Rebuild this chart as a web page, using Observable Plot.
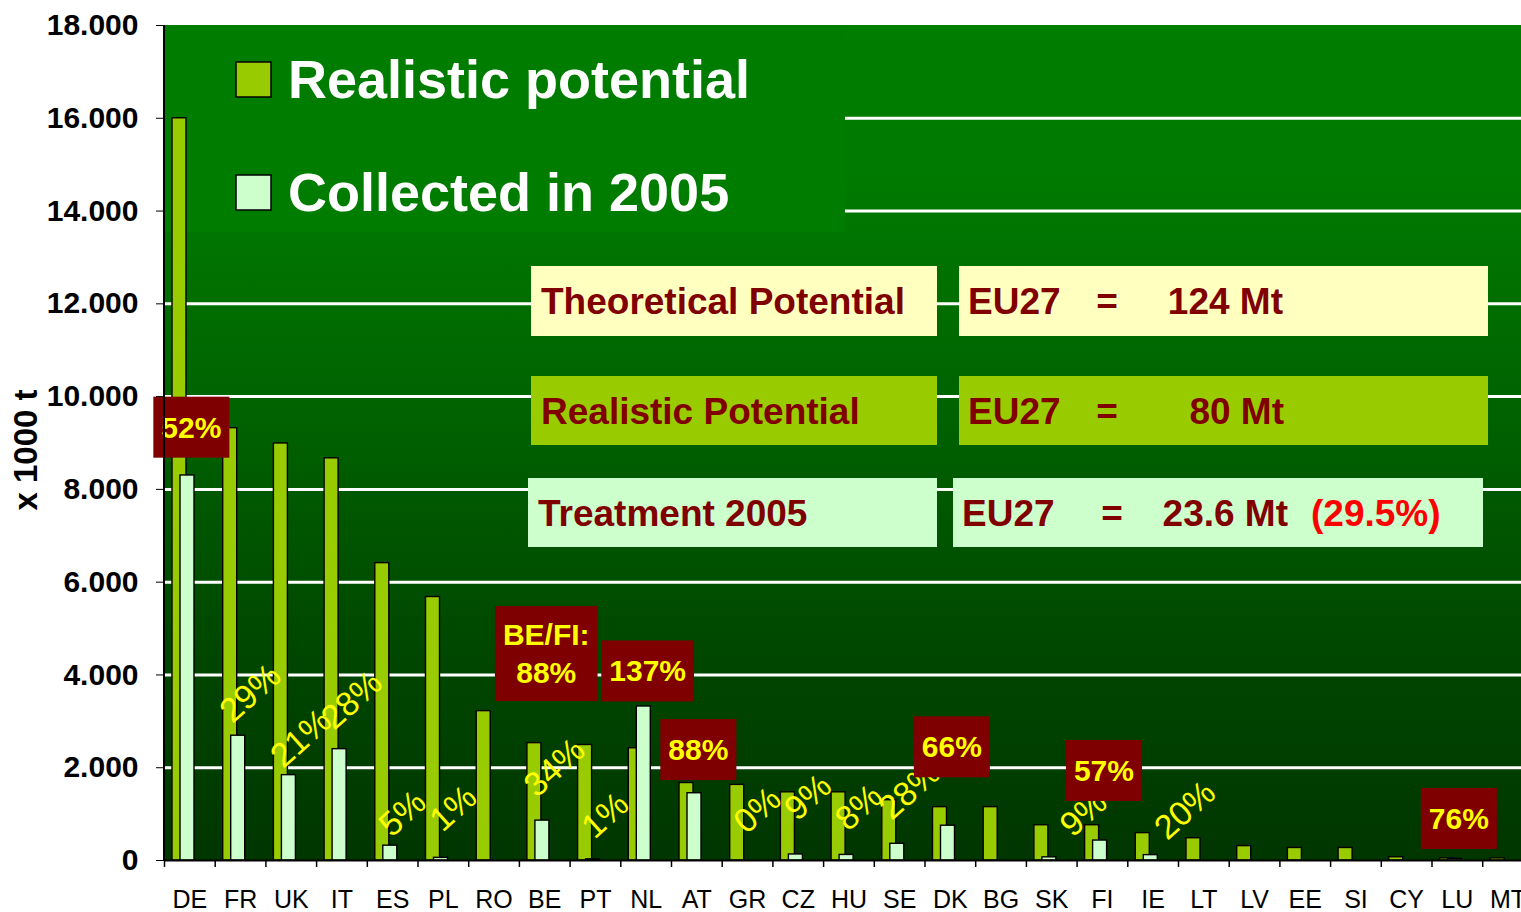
<!DOCTYPE html>
<html>
<head>
<meta charset="utf-8">
<script src="https://cdn.jsdelivr.net/npm/d3@7"></script>
<script src="https://cdn.jsdelivr.net/npm/@observablehq/plot@0.6"></script>
<style>
html, body { margin: 0; padding: 0; background: #fff; overflow: hidden; }
#chart svg { display: block; }
</style>
</head>
<body>
<div id="chart"></div>
<script>
// ---- data ----
const countries = ["DE","FR","UK","IT","ES","PL","RO","BE","PT","NL","AT","GR","CZ","HU","SE","DK","BG","SK","FI","IE","LT","LV","EE","SI","CY","LU","MT"];
const realistic = [16000,9320,8990,8670,6410,5680,3220,2530,2490,2420,1670,1630,1470,1470,1300,1150,1150,760,760,590,480,310,270,270,70,45,45];
const collected = [8300,2690,1840,2400,320,57,0,860,25,3320,1450,0,130,120,360,750,0,68,430,116,0,0,0,0,0,34,0];
const yTicks = [0,2000,4000,6000,8000,10000,12000,14000,16000,18000];
const gridValues = [2000,4000,6000,8000,10000,12000,14000,16000];

// rotated share labels (country, label, anchor value)
const pctCountries = ["FR","UK","IT","ES","PL","BE","PT","GR","CZ","HU","SE"];
const pctLabels = ["29%","21%","28%","5%","1%","34%","1%","0%","9%","8%","28%"];
const pctY = [3600,2630,3450,1010,1120,2000,970,1080,1360,1140,1510];
const pctCountries2 = ["SK","IE"];
const pctLabels2 = ["9%","20%"];
const pctY2 = [1010,1080];

// boxed share labels
const boxCountries = ["DE","BE","NL","AT","DK","FI","LU"];
const boxLabels = ["52%","BE/FI:\n88%","137%","88%","66%","57%","76%"];
const boxY = [9330,4450,4075,2380,2440,1930,895];

// summary table
const infoLabels = ["Theoretical Potential","Realistic Potential","Treatment 2005"];
const infoRegion = ["EU27","EU27","EU27"];
const infoValues = ["124 Mt","80 Mt","23.6 Mt"];
const infoShares = ["","","(29.5%)"];

const legendLabels = ["Realistic potential","Collected in 2005"];

// ---- tables ----
const table = countries.map((c, i) => ({country: c, realistic: realistic[i], collected: collected[i]}));
const pctTable = pctCountries.map((c, i) => ({country: c, label: pctLabels[i], y: pctY[i]}));
const pctTable2 = pctCountries2.map((c, i) => ({country: c, label: pctLabels2[i], y: pctY2[i]}));
const boxTable = boxCountries.map((c, i) => ({country: c, label: boxLabels[i], y: boxY[i]}));

const FONT = "'Liberation Sans', Arial, Helvetica, sans-serif";
const W = 1521, H = 912;
const mL = 164, mT = 25, mB = 52;
const bandW = 50.7;
const xRange = [mL, mL + countries.length * bandW];

const C_REAL = "#99cc00", C_COLL = "#ccffcc";

// background gradient frame
function background(index, scales, values, dims) {
  const g = d3.create("svg:g");
  const defs = g.append("defs");
  const lg = defs.append("linearGradient").attr("id", "bggrad").attr("x1", 0).attr("y1", 0).attr("x2", 0).attr("y2", 1);
  [[0, "#007e00"], [0.2, "#007900"], [0.5, "#005f00"], [0.75, "#004700"], [1, "#003600"]]
    .forEach(([o, c]) => lg.append("stop").attr("offset", o).attr("stop-color", c));
  g.append("rect").attr("x", dims.marginLeft).attr("y", dims.marginTop)
    .attr("width", dims.width - dims.marginLeft - dims.marginRight)
    .attr("height", dims.height - dims.marginTop - dims.marginBottom)
    .attr("fill", "url(#bggrad)");
  return g.node();
}

// legend panel
function legend(index, scales, values, dims) {
  const g = d3.create("svg:g");
  g.append("rect").attr("x", dims.marginLeft).attr("y", dims.marginTop)
    .attr("width", 845 - dims.marginLeft).attr("height", 232 - dims.marginTop).attr("fill", "#007c00");
  const fills = [C_REAL, C_COLL];
  const tops = [62, 175];
  legendLabels.forEach((lab, i) => {
    g.append("rect").attr("x", 236).attr("y", tops[i]).attr("width", 35).attr("height", 35)
      .attr("fill", fills[i]).attr("stroke", "#000").attr("stroke-width", 1.5);
    g.append("text").attr("x", 288).attr("y", tops[i] + 36).text(lab).attr("text-anchor", "start")
      .attr("fill", "#fff").attr("font-family", FONT).attr("font-weight", "bold").attr("font-size", 54);
  });
  return g.node();
}

// summary table boxes
function info(index, scales, values, dims) {
  const g = d3.create("svg:g").attr("font-family", FONT).attr("font-weight", "bold").attr("font-size", 37);
  const rows = [
    {top: 266, h: 70, l: [531, 937], r: [959, 1488], fill: "#ffffc0", eq: 1107, vEnd: 1283},
    {top: 376, h: 69, l: [531, 937], r: [959, 1488], fill: "#99cc00", eq: 1107, vEnd: 1284},
    {top: 478, h: 69, l: [528, 937], r: [953, 1483], fill: "#ccffcc", eq: 1112, vEnd: 1288}
  ];
  rows.forEach((row, i) => {
    g.append("rect").attr("x", row.l[0]).attr("y", row.top).attr("width", row.l[1] - row.l[0]).attr("height", row.h).attr("fill", row.fill);
    g.append("rect").attr("x", row.r[0]).attr("y", row.top).attr("width", row.r[1] - row.r[0]).attr("height", row.h).attr("fill", row.fill);
    const base = row.top + row.h / 2 + 13;
    g.append("text").attr("x", row.l[0] + 10).attr("y", base).attr("fill", "#800000").attr("text-anchor", "start").text(infoLabels[i]);
    g.append("text").attr("x", row.r[0] + 9).attr("y", base).attr("fill", "#800000").attr("text-anchor", "start").text(infoRegion[i]);
    g.append("text").attr("x", row.eq).attr("y", base).attr("fill", "#800000").attr("text-anchor", "middle").text("=");
    g.append("text").attr("x", row.vEnd).attr("y", base).attr("fill", "#800000").attr("text-anchor", "end").text(infoValues[i]);
    if (infoShares[i]) g.append("text").attr("x", 1311).attr("y", base).attr("fill", "#ff0000").attr("text-anchor", "start").text(infoShares[i]);
  });
  return g.node();
}

// dark red boxed labels
const mctx = document.createElement("canvas").getContext("2d");
mctx.font = "bold 30px " + FONT;
function boxes(index, scales, values, dims) {
  const g = d3.create("svg:g").attr("font-family", FONT).attr("font-weight", "bold").attr("font-size", 30);
  const bw = scales.x.bandwidth ? scales.x.bandwidth() : 0;
  boxTable.forEach(d => {
    const cx = scales.x(d.country) + bw / 2 + 2;
    const cy = scales.y(d.y);
    const lines = d.label.split("\n");
    const tw = Math.max(...lines.map(l => mctx.measureText(l).width));
    const w = tw + 16, h = lines.length * 34 + 27;
    g.append("rect").attr("x", cx - w / 2).attr("y", cy - h / 2).attr("width", w).attr("height", h).attr("fill", "#7f0000");
    lines.forEach((l, j) => {
      const off = (j - (lines.length - 1) / 2) * 38;
      g.append("text").attr("x", cx).attr("y", cy + off + 10.5).attr("text-anchor", "middle")
        .attr("fill", "#ffff00").text(l);
    });
  });
  return g.node();
}

// left axis line + y title
function yDecor(index, scales, values, dims) {
  const g = d3.create("svg:g");
  g.append("line").attr("x1", dims.marginLeft).attr("x2", dims.marginLeft)
    .attr("y1", dims.marginTop).attr("y2", dims.height - dims.marginBottom)
    .attr("stroke", "#000").attr("stroke-width", 2);
  g.append("text").attr("transform", "translate(37,450) rotate(-90)").attr("text-anchor", "middle")
    .attr("font-family", FONT).attr("font-weight", "bold").attr("font-size", 33).attr("fill", "#000")
    .text("x 1000 t");
  return g.node();
}

const chart = Plot.plot({
  width: W,
  height: H,
  marginLeft: mL,
  marginRight: 0,
  marginTop: mT,
  marginBottom: mB,
  style: {fontFamily: FONT, color: "#000", background: "#fff"},
  x: {domain: countries, range: xRange, padding: 0, round: false, axis: null},
  y: {domain: [0, 18000], axis: null},
  marks: [
    background,
    Plot.ruleY(gridValues, {stroke: "#ffffff", strokeWidth: 3}),
    legend,
    info,
    Plot.barY(table, {x: "country", y: "realistic", fill: C_REAL, stroke: "#000", strokeWidth: 1.4, insetLeft: 8, insetRight: bandW - 22}),
    Plot.barY(table.filter(d => d.collected > 0), {x: "country", y: "collected", fill: C_COLL, stroke: "#000", strokeWidth: 1.4, insetLeft: 16, insetRight: bandW - 30}),
    Plot.text(pctTable, {x: "country", y: "y", text: "label", dx: 10, rotate: -42, fill: "#ffff00", fontSize: 34, fontFamily: FONT}),
    Plot.text(pctTable2, {x: "country", y: "y", text: "label", dx: 32, rotate: -42, fill: "#ffff00", fontSize: 34, fontFamily: FONT}),
    boxes,
    Plot.ruleY([0], {stroke: "#000", strokeWidth: 2}),
    Plot.ruleX(countries, {x: d => d, y1: 0, y2: -150, dx: -bandW / 2, stroke: "#000", strokeWidth: 1.5}),
    Plot.axisX({tickSize: 0, tickPadding: 30, fontSize: 25, label: null, fill: "#000"}),
    Plot.axisY({ticks: yTicks, tickFormat: d => d3.format(",")(d).replace(/,/g, "."), tickSize: 8, tickPadding: 18, fontSize: 30, fontWeight: "bold", label: null, stroke: "#000", fill: "#000"}),
    yDecor
  ]
});
document.getElementById("chart").appendChild(chart);
</script>
</body>
</html>
